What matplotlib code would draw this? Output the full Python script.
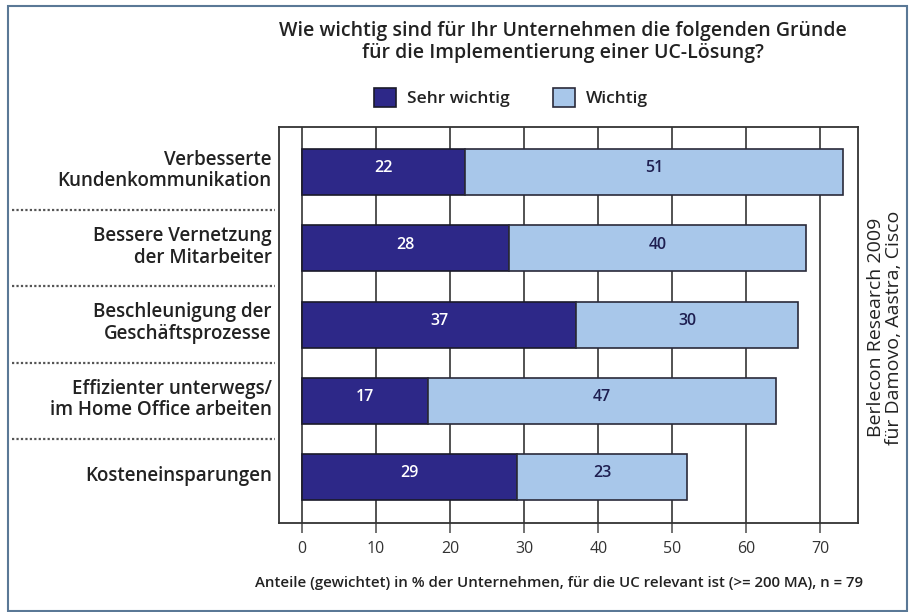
import matplotlib.pyplot as plt
import numpy as np
from matplotlib.patches import Rectangle
from matplotlib.transforms import blended_transform_factory

# Data
categories = [
    "Verbesserte\nKundenkommunikation",
    "Bessere Vernetzung\nder Mitarbeiter",
    "Beschleunigung der\nGeschäftsprozesse",
    "Effizienter unterwegs/\nim Home Office arbeiten",
    "Kosteneinsparungen",
]
sehr_wichtig = [22, 28, 37, 17, 29]
wichtig = [51, 40, 30, 47, 23]
x_ticks = [0, 10, 20, 30, 40, 50, 60, 70]

dark = "#2d2888"
light = "#a8c7ea"
font = ["Open Sans", "DejaVu Sans"]
plt.rcParams["font.family"] = font

fig = plt.figure(figsize=(9.12, 6.12), dpi=100)
ax = fig.add_axes([0.306, 0.1454, 0.635, 0.6471])

y = np.arange(len(categories))
h = 0.6
ax.barh(y, sehr_wichtig, height=h, color=dark, edgecolor="#1a1a2a", linewidth=1.2, zorder=3, label="Sehr wichtig")
ax.barh(y, wichtig, left=sehr_wichtig, height=h, color=light, edgecolor="#2a2a3a", linewidth=1.2, zorder=3, label="Wichtig")

# Value labels
for i in range(len(categories)):
    ax.text(sehr_wichtig[i] / 2, y[i] - 0.05, str(sehr_wichtig[i]), ha="center", va="center",
            color="white", fontsize=11.5, fontweight="semibold", zorder=4)
    ax.text(sehr_wichtig[i] + wichtig[i] / 2, y[i] - 0.05, str(wichtig[i]), ha="center", va="center",
            color="#1e1e50", fontsize=11.5, fontweight="semibold", zorder=4)

ax.set_xlim(-3.1, 75.1)
ax.set_ylim(4.6, -0.59)
ax.set_xticks(x_ticks)
ax.set_xticklabels([str(t) for t in x_ticks], fontsize=11.5, color="#333333")
ax.set_yticks([])
ax.grid(axis="x", color="#444444", linewidth=1.3, zorder=1)
ax.tick_params(axis="x", length=7, width=1.3, color="#666666", pad=6)
for s in ax.spines.values():
    s.set_color("#333333")
    s.set_linewidth(1.3)

# Category labels and dotted separators left of the plot
trans = blended_transform_factory(fig.transFigure, ax.transData)
for i, cat in enumerate(categories):
    fig.text(0.298, y[i] - 0.02, cat, transform=trans, ha="right", va="center", fontsize=13.5,
             fontweight="semibold", color="#222222", linespacing=1.1)
for sep in [0.5, 1.5, 2.5, 3.5]:
    ax.plot([0.013, 0.302], [sep, sep], transform=trans, color="#555555", linestyle=(0, (1, 1)),
            linewidth=1.6, clip_on=False)

# Title
fig.text(0.617, 0.931, "Wie wichtig sind für Ihr Unternehmen die folgenden Gründe\nfür die Implementierung einer UC-Lösung?",
         ha="center", va="center", fontsize=14, fontweight="semibold", color="#222222", linespacing=1.1)

# Legend
leg = fig.legend(loc="center", bbox_to_anchor=(0.56, 0.841), ncol=2, frameon=False, fontsize=12.5,
                 handlelength=1.3, handleheight=1.3, columnspacing=2.5, handletextpad=0.6)
for t in leg.get_texts():
    t.set_fontweight("semibold")
    t.set_color("#222222")

# Source text on the right
fig.text(0.97, 0.465, "Berlecon Research 2009\nfür Damovo, Aastra, Cisco", rotation=90, ha="center", va="center",
         fontsize=14, color="#222222", linespacing=1.0)

# Footnote
fig.text(0.613, 0.047, "Anteile (gewichtet) in % der Unternehmen, für die UC relevant ist (>= 200 MA), n = 79",
         ha="center", va="center", fontsize=10.8, fontweight="semibold", color="#222222")

# Outer border
fig.patches.append(Rectangle((0.009, 0.002), 0.985, 0.988, transform=fig.transFigure, fill=False,
                             edgecolor="#5a7896", linewidth=1.5))

fig.savefig("out.png", dpi=100)
